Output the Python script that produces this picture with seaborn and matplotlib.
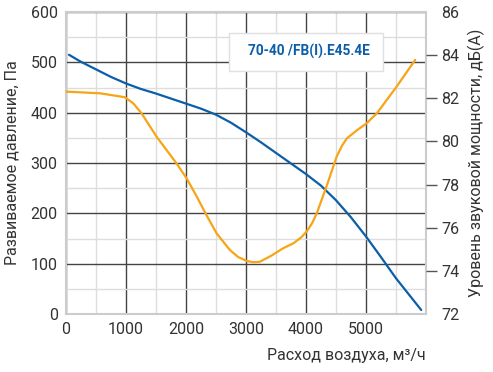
import numpy as np
import pandas as pd
import matplotlib
matplotlib.use("Agg")
import matplotlib.pyplot as plt
from matplotlib.patches import Rectangle
import seaborn as sns

# pressure curve (left axis)
flow_p = [50, 250, 500, 750, 1000, 1250, 1500, 1750, 2000, 2250, 2500, 2750, 3000, 3250,
          3500, 3750, 4000, 4250, 4500, 4750, 5000, 5250, 5500, 5920]
pressure = [515, 501, 486, 471, 458, 447, 438, 428, 418, 408, 396, 380, 361, 341,
            320, 299, 278, 255, 226, 192, 154, 113, 71, 8]

# sound power curve (right axis)
flow_s = [0, 570, 980, 1120, 1260, 1510, 1840, 2010, 2180, 2340, 2510, 2730, 2870, 3010,
          3120, 3230, 3420, 3620, 3790, 3920, 4010, 4100, 4180, 4340, 4510, 4600, 4680,
          4850, 5010, 5180, 5510, 5820]
sound = [82.31, 82.23, 82.05, 81.77, 81.30, 80.22, 78.99, 78.29, 77.44, 76.59, 75.74, 74.97,
         74.64, 74.46, 74.40, 74.42, 74.70, 75.05, 75.28, 75.55, 75.82, 76.20, 76.67, 77.90,
         79.29, 79.80, 80.14, 80.52, 80.84, 81.30, 82.54, 83.78]

model = "70-40 /FB(I).E45.4E"

df_p = pd.DataFrame({"flow": flow_p, "val": pressure})
df_s = pd.DataFrame({"flow": flow_s, "val": sound})

sns.set_style("white")
plt.rcParams["font.family"] = ["Roboto", "DejaVu Sans"]
txt = "#333333"

fig = plt.figure(figsize=(4.93, 3.72), dpi=100)
ax = fig.add_axes([66 / 493, 1 - 314 / 372, 360 / 493, 302 / 372])

ax.set_xlim(0, 6000)
ax.set_ylim(0, 600)
ax.set_xticks(range(0, 6000, 1000))
ax.set_xticks(range(500, 6000, 1000), minor=True)
ax.set_yticks(range(0, 700, 100))
ax.set_yticks(range(50, 600, 100), minor=True)
ax.grid(which="minor", color="#dddddd", lw=1)
ax.grid(which="major", color="#444444", lw=1)
ax.tick_params(which="both", length=0, labelsize=11.5, labelcolor=txt, pad=6)
for s in ax.spines.values():
    s.set_color("#cccccc")
    s.set_linewidth(1.5)
ax.set_axisbelow(True)

sns.lineplot(data=df_p, x="flow", y="val", ax=ax, color="#0b5ea8", lw=1.6)

ax2 = ax.twinx()
ax2.set_ylim(72, 86)
ax2.set_yticks(range(72, 88, 2))
sns.lineplot(data=df_s, x="flow", y="val", ax=ax2, color="#f7a416", lw=1.6)
ax2.tick_params(length=8, width=1, color="#555555", labelsize=11.5, labelcolor=txt, pad=3)
for i, t in enumerate(ax2.yaxis.get_major_ticks()):
    if i in (0, 7):
        t.tick2line.set_visible(False)
for s in ax2.spines.values():
    s.set_visible(False)

ax.set_xlabel("Расход воздуха, м³/ч", fontsize=11.5, color=txt, loc="right", labelpad=8)
ax.set_ylabel("Развиваемое давление, Па", fontsize=11.5, color=txt, labelpad=8)
ax2.set_ylabel("Уровень звуковой мощности, дБ(А)", fontsize=11.5, color=txt, labelpad=6)
ax2.set_xlabel("")

ax2.add_patch(Rectangle((0.453, 0.805), 0.428, 0.125, transform=ax2.transAxes,
                        fc="white", ec="#e0e0e0", lw=1, zorder=4))
ax2.text(0.674, 0.868, model, transform=ax2.transAxes, ha="center", va="center",
         fontsize=9.8, fontweight="bold", color="#0b5ea8", zorder=5)

fig.savefig("out.png", dpi=100)
